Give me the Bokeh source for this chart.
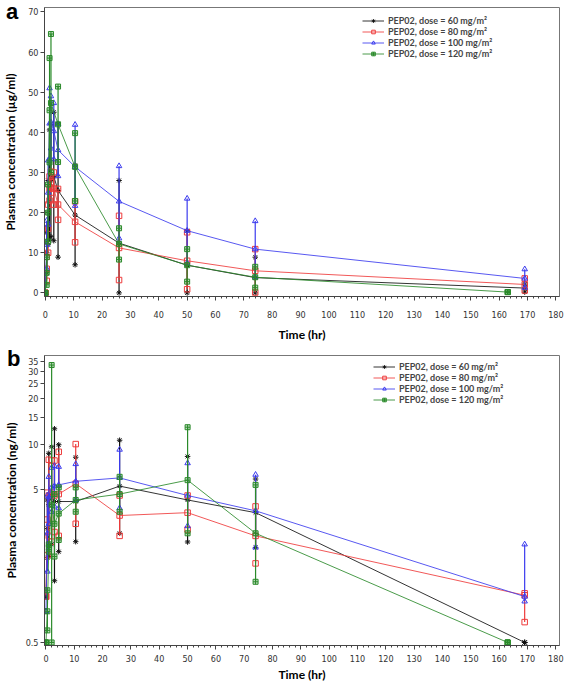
from bokeh.plotting import figure
from bokeh.models import (Range1d, FixedTicker, SingleIntervalTicker, Legend, LegendItem, Div)
from bokeh.layouts import column
from bokeh.embed import file_html
from bokeh.resources import INLINE

# ---------------- data: panel a (µg/ml, linear) ----------------
t_a = [0, 0.5, 1, 1.5, 2, 3, 4.5, 10.5, 26, 50, 74, 169]
t_a_120 = [0, 0.5, 1, 1.5, 2, 4.5, 10.5, 26, 50, 74, 163]

a_mean_60 = [0, 10, 20, 27, 28, 29, 25.5, 19.4, 12.4, 6.9, 3.8, 1.2]
a_lo_60 = [0, 5, 12, 13.4, 14, 13, 8.9, 7.0, 0, 0, 0, 0.2]
a_hi_60 = [0, 15, 28, 40.6, 42, 45, 42.1, 31.8, 28, 15.5, 8.9, 2.2]

a_mean_80 = [0, 6, 16, 26, 27.5, 26, 22, 17.7, 11.2, 8.0, 5.5, 2.1]
a_lo_80 = [0, 3, 10, 23, 25, 22, 18.2, 12.6, 3.2, 0.9, 0.1, 0.6]
a_hi_80 = [0, 9, 22, 29, 30.2, 30, 25.9, 22.8, 19.2, 15.1, 10.9, 3.6]

a_mean_100 = [0, 12, 25, 42.2, 42.5, 40.3, 35.6, 31.4, 22.8, 15.5, 10.9, 3.6]
a_lo_100 = [0, 6, 17, 33.4, 36, 33.3, 29.1, 21.7, 13.6, 7.5, 3.9, 1.3]
a_hi_100 = [0, 18, 33, 51, 49, 47.3, 42.1, 41.9, 31.6, 23.5, 17.9, 5.9]

a_mean_120 = [0, 5, 20, 45.5, 47.3, 42, 31.4, 12.2, 6.9, 3.9, 0.2]
a_lo_120 = [0, 2, 12.8, 32.5, 30, 32.6, 22.9, 8.3, 2.8, 1.3, 0.2]
a_hi_120 = [0, 8.9, 27, 58.5, 64.5, 51.4, 39.8, 16.1, 10.9, 6.5, 0.2]

# ---------------- data: panel b (ng/ml, log) ----------------
t_b = [0, 0.5, 1, 2, 3, 4.5, 10.5, 26, 50, 74, 169]
t_b_120 = [0, 0.5, 1, 2, 3, 4.5, 10.5, 26, 50, 74, 163]

b_mean_60 = [1.0, 2.8, 4.0, 4.6, 4.2, 4.2, 4.2, 5.3, 4.3, 3.55, 0.5]
b_lo_60 = [1.0, 1.8, 1.83, 2.2, 1.27, 1.97, 2.29, 2.6, 2.28, 2.1, 0.5]
b_hi_60 = [1.0, 4.3, 8.7, 9.6, 12.6, 9.9, 8.2, 10.6, 8.3, 5.9, 0.5]

b_mean_80 = [1.0, 3.2, 4.6, 4.8, 4.6, 4.7, 5.5, 3.4, 3.55, 2.5, 1.02]
b_lo_80 = [1.0, 1.87, 2.5, 2.29, 2.65, 2.5, 3.0, 2.5, 2.75, 1.65, 0.68]
b_hi_80 = [1.0, 4.8, 7.9, 7.8, 7.8, 8.9, 10.0, 4.6, 4.6, 3.9, 1.05]

b_mean_100 = [0.8, 2.6, 4.5, 5.2, 5.3, 5.4, 5.7, 6.0, 4.6, 3.65, 1.0]
b_lo_100 = [0.8, 1.46, 3.0, 3.6, 3.9, 3.8, 4.3, 3.8, 2.9, 2.1, 0.93]
b_hi_100 = [0.8, 4.6, 6.1, 7.0, 7.2, 7.1, 7.4, 9.2, 7.5, 6.3, 2.2]

b_mean_120 = [0.5, 0.8, 2.1, 4.0, 3.0, 3.5, 4.3, 4.7, 5.8, 2.6, 0.5]
b_lo_120 = [0.5, 0.6, 1.97, 0.5, 1.83, 2.35, 3.6, 3.6, 2.6, 1.25, 0.5]
b_hi_120 = [0.5, 1.1, 2.2, 33.0, 4.7, 5.2, 5.2, 6.1, 12.9, 5.4, 0.5]

labels = ["PEP02, dose = 60 mg/m\u00b2", "PEP02, dose = 80 mg/m\u00b2",
          "PEP02, dose = 100 mg/m\u00b2", "PEP02, dose = 120 mg/m\u00b2"]
b_tick_vals = [0.5, 5, 10, 15, 20, 25, 30, 35]

# ---------------- styles ----------------
COLORS = ["#111111", "#ee3b3b", "#3b3bee", "#2a8a2a"]
MARKERS = ["asterisk", "square", "triangle", "square_cross"]
TICK_FONT = "'Liberation Sans Narrow', 'DejaVu Sans Condensed', 'Liberation Sans', sans-serif"
LABEL_FONT = "Lato"


def style(p, xlabel, ylabel, x_std, x_lab_std, y_std, y_lab_std):
    p.outline_line_color = "#777777"
    p.outline_line_width = 1
    p.xgrid.visible = False
    p.ygrid.visible = False
    p.background_fill_color = "white"
    p.border_fill_color = "white"
    for ax in (p.xaxis[0], p.yaxis[0]):
        ax.axis_line_color = "#444444"
        ax.major_tick_line_color = "#444444"
        ax.minor_tick_line_color = "#444444"
        ax.major_tick_out = 4
        ax.major_tick_in = 0
        ax.minor_tick_out = 2
        ax.minor_tick_in = 0
        ax.major_label_text_font = TICK_FONT
        ax.major_label_text_font_size = "9px"
        ax.major_label_text_color = "#333333"
        ax.axis_label_text_font = LABEL_FONT
        ax.axis_label_text_font_style = "bold"
        ax.axis_label_text_font_size = "12px"
        ax.axis_label_text_color = "black"
    p.xaxis.major_label_standoff = x_std
    p.xaxis.axis_label_standoff = x_lab_std
    p.yaxis.major_label_standoff = y_std
    p.yaxis.axis_label_standoff = y_lab_std
    p.xaxis.axis_label = xlabel
    p.yaxis.axis_label = ylabel
    p.xaxis.ticker = SingleIntervalTicker(interval=10, num_minor_ticks=5)


def draw_series(p, series):
    items = []
    for i, (t, m, lo, hi) in enumerate(series):
        c = COLORS[i]
        p.segment(x0=t, y0=lo, x1=t, y1=hi, line_color=c, line_width=1.2)
        ln = p.line(t, m, line_color=c, line_width=1, line_alpha=0.85)
        kw = dict(marker=MARKERS[i], size=5.5, line_color=c, line_width=1,
                  fill_color=(c if MARKERS[i] == "square_cross" else None))
        if MARKERS[i] == "square_cross":
            kw["fill_alpha"] = 0.3
            kw["size"] = 5
        p.scatter(t, lo, **kw)
        p.scatter(t, hi, **kw)
        sc = p.scatter(t, m, **kw)
        items.append(LegendItem(label=labels[i], renderers=[ln, sc]))
    return items


def add_legend(p, items, loc):
    lg = Legend(items=items, location=loc, border_line_color=None,
                background_fill_alpha=0, padding=0, margin=0, spacing=0,
                label_height=9, glyph_height=9, glyph_width=22,
                label_standoff=4,
                label_text_font=LABEL_FONT, label_text_font_style="bold",
                label_text_font_size="9px")
    p.add_layout(lg)


def panel_letter(letter, left, top):
    return Div(text=letter, width=20, height=24,
               styles={"position": "absolute", "left": "%dpx" % left, "top": "%dpx" % top,
                       "z-index": "10", "font-family": "'Liberation Sans', Arial, sans-serif",
                       "font-weight": "bold", "font-size": "22px", "line-height": "22px",
                       "color": "black"})


# ---------------- panel a ----------------
pa = figure(width=567, height=344, output_backend="svg", toolbar_location=None,
            x_range=Range1d(-0.28, 181.25), y_range=Range1d(-0.9, 71.1),
            min_border_left=38, min_border_right=8, min_border_top=7, min_border_bottom=46)
style(pa, "Time (hr)", "Plasma concentration (\u00b5g/ml)", 10, 6, 2, 7)
pa.yaxis.ticker = SingleIntervalTicker(interval=10, num_minor_ticks=0)
items_a = draw_series(pa, [
    (t_a, a_mean_60, a_lo_60, a_hi_60),
    (t_a, a_mean_80, a_lo_80, a_hi_80),
    (t_a, a_mean_100, a_lo_100, a_hi_100),
    (t_a_120, a_mean_120, a_lo_120, a_hi_120),
])
add_legend(pa, items_a, (318, 237))

# ---------------- panel b ----------------
pb = figure(width=567, height=340, output_backend="svg", toolbar_location=None,
            y_axis_type="log",
            x_range=Range1d(-0.52, 181.3), y_range=Range1d(0.4776, 38.1),
            min_border_left=39, min_border_right=4, min_border_top=11, min_border_bottom=38)
style(pb, "Time (hr)", "Plasma concentration (ng/ml)", 5, 2, 2, 4)
pb.yaxis.ticker = FixedTicker(ticks=b_tick_vals, minor_ticks=[])
pb.yaxis.major_label_overrides = {v: ("%g" % v) for v in b_tick_vals}
items_b = draw_series(pb, [
    (t_b, b_mean_60, b_lo_60, b_hi_60),
    (t_b, b_mean_80, b_lo_80, b_hi_80),
    (t_b, b_mean_100, b_lo_100, b_hi_100),
    (t_b_120, b_mean_120, b_lo_120, b_hi_120),
])
add_legend(pb, items_b, (329, 240))

layout = column(pa, pb, panel_letter("a", 1, -4), panel_letter("b", 2, 343), spacing=0)
open("out.html", "w").write(file_html(layout, INLINE))
